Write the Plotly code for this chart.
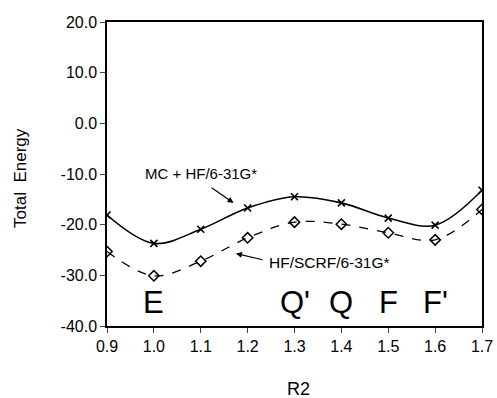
import plotly.graph_objects as go

r2 = [0.9, 1.0, 1.1, 1.2, 1.3, 1.4, 1.5, 1.6, 1.7]
mc_hf = [-18.1, -23.7, -20.9, -16.7, -14.5, -15.7, -18.7, -20.1, -13.2]
hf_scrf = [-25.3, -30.1, -27.2, -22.6, -19.5, -19.9, -21.6, -23.0, -17.0]
state_labels = ["E", "Q'", "Q", "F", "F'"]
state_x = [1.0, 1.3, 1.4, 1.5, 1.6]
state_y = -35.3
y_ticks = [20.0, 10.0, 0.0, -10.0, -20.0, -30.0, -40.0]
x_ticks = [0.9, 1.0, 1.1, 1.2, 1.3, 1.4, 1.5, 1.6, 1.7]

FONT = "Liberation Sans, Arial, sans-serif"

fig = go.Figure()
fig.add_trace(go.Scatter(
    x=r2, y=mc_hf, mode="lines+markers", line=dict(color="black", width=1.6, shape="spline", smoothing=1.0),
    marker=dict(symbol="x-thin", size=7, line=dict(color="black", width=1.6)),
    showlegend=False))
fig.add_trace(go.Scatter(
    x=r2, y=hf_scrf, mode="lines+markers", line=dict(color="black", width=1.3, dash="dash", shape="spline", smoothing=1.0),
    marker=dict(symbol="diamond-open", size=8, color="black", line=dict(color="black", width=1.5)),
    showlegend=False))

for lab, xv in zip(state_labels, state_x):
    fig.add_annotation(x=xv, y=state_y, text=lab, showarrow=False,
                       font=dict(family=FONT, size=31, color="black"))

fig.add_annotation(x=1.17, y=-15.7, ax=1.12, ay=-12.5, axref="x", ayref="y",
                   text="", showarrow=True, arrowhead=2, arrowsize=1, arrowwidth=1.2, arrowcolor="black")
fig.add_annotation(x=1.1, y=-9.9, text="MC + HF/6-31G*", showarrow=False,
                   font=dict(family=FONT, size=15, color="black"))
fig.add_annotation(x=1.175, y=-25.7, ax=1.235, ay=-27.0, axref="x", ayref="y",
                   text="", showarrow=True, arrowhead=2, arrowsize=1, arrowwidth=1.2, arrowcolor="black")
fig.add_annotation(x=1.241, y=-27.4, text="HF/SCRF/6-31G*", showarrow=False, xanchor="left",
                   font=dict(family=FONT, size=15.5, color="black"))

# axis titles
fig.add_annotation(xref="paper", yref="paper", x=0.5, y=0, xshift=4, yshift=-63,
                   text="R2", showarrow=False, yanchor="middle",
                   font=dict(family=FONT, size=18, color="black"))
fig.add_annotation(xref="paper", yref="paper", x=0, y=0.487, xshift=-86,
                   text="Total  Energy", showarrow=False, textangle=-90, xanchor="center",
                   font=dict(family=FONT, size=17, color="black"))

fig.update_layout(
    width=497, height=398,
    margin=dict(l=107, r=15, t=22, b=72),
    plot_bgcolor="white", paper_bgcolor="white",
    font=dict(family=FONT, size=16, color="black"),
)
fig.update_xaxes(range=[0.9, 1.7], tickvals=x_ticks, ticktext=[f"{v:.1f}" for v in x_ticks],
                 ticks="outside", ticklen=5, tickwidth=1.2, showgrid=False, zeroline=False,
                 showline=True, linecolor="black", linewidth=1.5, mirror=True, automargin=False)
fig.update_yaxes(range=[-40, 20], tickvals=y_ticks, ticktext=[f"{v:.1f}" for v in y_ticks],
                 ticks="outside", ticklen=5, tickwidth=1.2, showgrid=False, zeroline=False,
                 showline=True, linecolor="black", linewidth=1.5, mirror=True, automargin=False)

fig.write_html("out.html")
